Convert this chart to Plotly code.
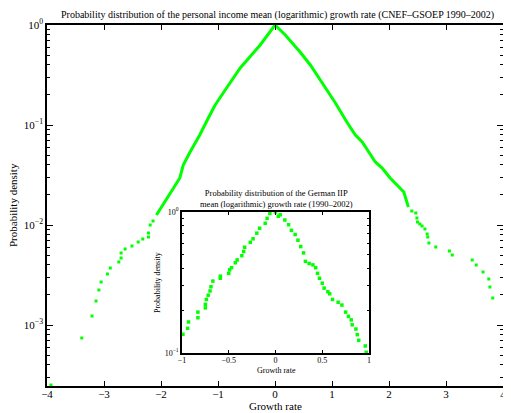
import plotly.graph_objects as go

# ---- data (log10 of density) ----
core_x = [-2.08, -1.93, -1.78, -1.67, -1.61, -1.49, -1.32, -1.17, -1.05, -0.85, -0.61, -0.26, 0.0,
          0.18, 0.44, 0.62, 0.85, 1.06, 1.26, 1.41, 1.53, 1.64, 1.76, 1.88, 2.02, 2.14, 2.26, 2.34]
core_logy = [-1.90, -1.77, -1.63, -1.53, -1.40, -1.27, -1.10, -0.93, -0.80, -0.63, -0.43, -0.20, 0.0,
             -0.10, -0.27, -0.40, -0.60, -0.78, -0.97, -1.10, -1.17, -1.27, -1.37, -1.43, -1.53, -1.60, -1.67, -1.82]

tail_x = [-3.93, -3.39, -3.21, -3.14, -3.09, -3.05, -2.94, -2.89, -2.74, -2.70, -2.70, -2.63, -2.51,
          -2.40, -2.32, -2.22, -2.22, -2.19, -2.14,
          2.40, 2.47, 2.49, 2.50, 2.54, 2.58, 2.63, 2.67, 2.68, 2.70, 2.82, 3.06, 3.11, 3.46, 3.53,
          3.65, 3.75, 3.77, 3.82]
tail_logy = [-3.60, -3.13, -2.91, -2.76, -2.65, -2.57, -2.49, -2.43, -2.37, -2.33, -2.28, -2.24, -2.21,
             -2.17, -2.14, -2.12, -2.08, -2.00, -1.96,
             -1.86, -1.88, -1.93, -1.97, -1.99, -2.01, -2.04, -2.09, -2.12, -2.18, -2.22, -2.26, -2.30,
             -2.35, -2.40, -2.47, -2.54, -2.62, -2.73]

inset_x = [-0.99, -0.94, -0.93, -0.83, -0.83, -0.75, -0.75, -0.74, -0.72, -0.70, -0.69, -0.67, -0.59,
           -0.59, -0.50, -0.49, -0.47, -0.43, -0.41, -0.36, -0.34, -0.33, -0.27, -0.24, -0.20, -0.17,
           -0.11, -0.09, -0.06, 0.0, 0.03, 0.05, 0.10, 0.14, 0.17, 0.21, 0.24, 0.27, 0.30, 0.32, 0.36,
           0.40, 0.43, 0.45, 0.47, 0.50, 0.52, 0.56, 0.58, 0.61, 0.67, 0.71, 0.75, 0.78, 0.81, 0.82,
           0.86, 0.875, 0.89, 0.96, 0.97]
inset_logy = [-0.867, -0.825, -0.78, -0.75, -0.71, -0.68, -0.655, -0.62, -0.59, -0.56, -0.53, -0.49, -0.47,
              -0.455, -0.435, -0.41, -0.395, -0.36, -0.34, -0.31, -0.28, -0.25, -0.215, -0.19, -0.15, -0.115,
              -0.08, -0.045, -0.01, 0.0, -0.03, -0.02, -0.057, -0.09, -0.13, -0.16, -0.20, -0.245, -0.29,
              -0.35, -0.365, -0.375, -0.395, -0.435, -0.47, -0.505, -0.54, -0.565, -0.58, -0.62, -0.64,
              -0.66, -0.71, -0.74, -0.765, -0.80, -0.83, -0.87, -0.91, -0.95, -0.995]

main_xticks = [-4, -3, -2, -1, 0, 1, 2, 3, 4]
main_yticks = [1, 0.1, 0.01, 0.001]
main_yticktext = ["10<sup>0</sup>", "10<sup>−1</sup>", "10<sup>−2</sup>", "10<sup>−3</sup>"]
inset_xticks = [-1, -0.5, 0, 0.5, 1]
inset_yticks = [1, 0.1]
inset_yticktext = ["10<sup>0</sup>", "10<sup>−1</sup>"]

GREEN = "#00ff00"
FONT = "Liberation Serif"
OFF = 8                      # default page body margin
W, H = 511 - OFF, 413 - OFF

fig = go.Figure()
fig.add_trace(go.Scatter(x=core_x, y=[10 ** v for v in core_logy], mode="lines",
                         line=dict(color=GREEN, width=3), hoverinfo="skip", xaxis="x", yaxis="y"))
fig.add_trace(go.Scatter(x=tail_x, y=[10 ** v for v in tail_logy], mode="markers",
                         marker=dict(color=GREEN, size=3, symbol="square", line=dict(width=0)),
                         xaxis="x", yaxis="y"))
fig.add_trace(go.Scatter(x=inset_x, y=[10 ** v for v in inset_logy], mode="markers",
                         marker=dict(color=GREEN, size=3.5, symbol="square", line=dict(width=0)),
                         xaxis="x2", yaxis="y2"))

def px_x(p):
    return (p - OFF) / W

def px_y(p):
    return 1 - (p - OFF) / H

axis_common = dict(showgrid=False, zeroline=False, showline=True, linecolor="black", linewidth=1.5,
                   mirror="allticks", ticks="inside", tickcolor="black")

fig.update_layout(
    width=W, height=H, margin=dict(l=0, r=0, t=0, b=0, autoexpand=False),
    paper_bgcolor="white", plot_bgcolor="white", showlegend=False,
    font=dict(family=FONT, color="black"),
    xaxis=dict(domain=[px_x(47), px_x(503)], range=[-4, 4], tickmode="array", tickvals=main_xticks,
               ticklen=5, tickwidth=1, tickfont=dict(size=11, family=FONT), anchor="y",
               ticklabelstandoff=-3, **axis_common),
    yaxis=dict(domain=[px_y(386), px_y(25)], type="log", range=[-3.61, 0], tickmode="array",
               tickvals=main_yticks, ticktext=main_yticktext, ticklen=6, tickwidth=1,
               tickfont=dict(size=11, family=FONT), anchor="x",
               minor=dict(ticks="inside", ticklen=3, tickcolor="black", dtick="D1", showgrid=False),
               **axis_common),
    xaxis2=dict(domain=[px_x(182), px_x(369)], range=[-1, 1], tickmode="array", tickvals=inset_xticks,
                ticklen=3, tickwidth=1, tickfont=dict(size=8, family=FONT), anchor="y2",
                ticklabelstandoff=-1, **axis_common),
    yaxis2=dict(domain=[px_y(353), px_y(212)], type="log", range=[-1, 0], tickmode="array",
                tickvals=inset_yticks, ticktext=inset_yticktext, ticklen=3, tickwidth=1,
                tickfont=dict(size=8, family=FONT), anchor="x2",
                minor=dict(ticks="inside", ticklen=2, tickcolor="black", dtick="D1", showgrid=False),
                **axis_common),
    annotations=[
        dict(text="Probability distribution of the personal income mean (logarithmic) growth rate (CNEF–GSOEP 1990–2002)",
             x=px_x(277), y=px_y(15), xref="paper", yref="paper", showarrow=False,
             font=dict(size=10, family=FONT), xanchor="center", yanchor="middle"),
        dict(text="Growth rate", x=px_x(275), y=px_y(406), xref="paper", yref="paper", showarrow=False,
             font=dict(size=11, family=FONT), xanchor="center", yanchor="middle"),
        dict(text="Probability density", x=px_x(13), y=px_y(205), xref="paper", yref="paper",
             showarrow=False, textangle=-90, font=dict(size=11, family=FONT),
             xanchor="center", yanchor="middle"),
        dict(text="Probability distribution of the German IIP<br>mean (logarithmic) growth rate (1990–2002)",
             x=px_x(276), y=px_y(198), xref="paper", yref="paper", showarrow=False,
             font=dict(size=8.5, family=FONT), xanchor="center", yanchor="middle"),
        dict(text="Growth rate", x=px_x(276), y=px_y(370), xref="paper", yref="paper", showarrow=False,
             font=dict(size=8, family=FONT), xanchor="center", yanchor="middle"),
        dict(text="Probability density", x=px_x(157), y=px_y(283), xref="paper", yref="paper",
             showarrow=False, textangle=-90, font=dict(size=8, family=FONT),
             xanchor="center", yanchor="middle"),
    ],
)

fig.write_html("out.html")
